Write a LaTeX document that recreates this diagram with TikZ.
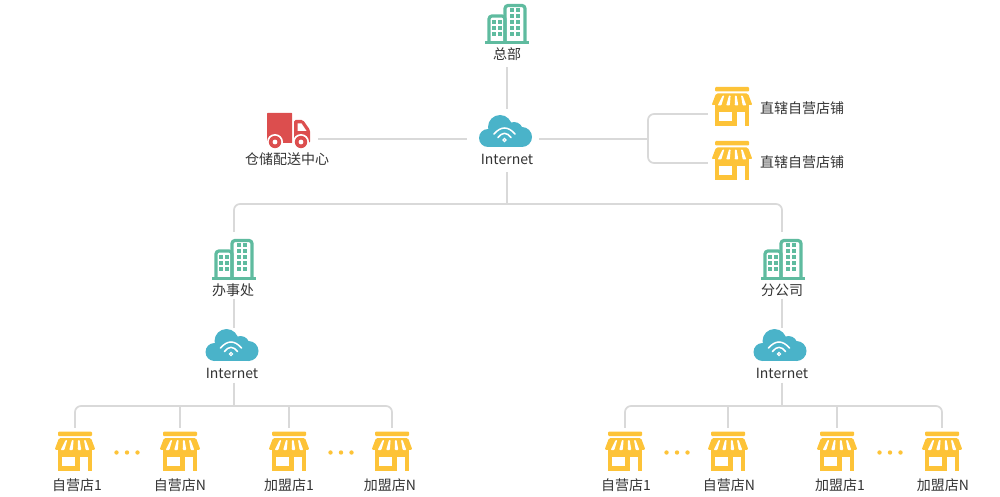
\documentclass[tikz,border=0pt]{standalone}
\usepackage{fontspec}
\setmainfont{Noto Sans CJK SC}
\usetikzlibrary{positioning}
\definecolor{wirec}{HTML}{D9D9D9}
\definecolor{towerc}{HTML}{5FBB9F}
\definecolor{cloudc}{HTML}{4AB3C9}
\definecolor{truckc}{HTML}{DC4E4E}
\definecolor{shopc}{HTML}{FDC338}
\definecolor{textc}{HTML}{333333}
\tikzset{
  wire/.style={draw=wirec,line width=1.7pt,rounded corners=6pt},
  iconbox/.style={inner sep=0pt,minimum width=#1},
  caption/.style={inner sep=0pt,text=textc,font=\fontsize{14}{16}\selectfont,text height=10pt,text depth=1pt},
  tower/.pic={
    \draw[towerc,line width=3.2pt,rounded corners=3pt] (-2,19) -- (-2,-8) -- (-18,-8) -- (-18,19);
    \draw[towerc,line width=3.2pt,rounded corners=3pt] (-2,19) -- (-2,-18.5) -- (18,-18.5) -- (18,19);
    \fill[towerc] (-22,17.5) rectangle (21.5,20.5);
    \foreach \wx in {-13,-7} \foreach \wy in {-2,4,10}
      \fill[towerc] (\wx-2,\wy-2) rectangle (\wx+2,\wy+2);
    \foreach \wx in {5,11} \foreach \wy in {-14,-8,-2,4,10}
      \fill[towerc] (\wx-2,\wy-2) rectangle (\wx+2,\wy+2);
  },
  wificloud/.pic={
    \fill[cloudc] (-6,-4) circle (12pt) (8,0) circle (9pt) (16,6) circle (10pt) (-18,7) circle (9pt);
    \fill[cloudc] (-18,4) rectangle (16,16);
    \draw[white,line width=1.5pt,line cap=round] (-12,3) .. controls (-5,-5) and (2,-5) .. (9,3);
    \draw[white,line width=1.5pt,line cap=round] (-8,6.5) .. controls (-4,1) and (1,1) .. (5,6.5);
    \draw[white,line width=1.2pt] (-1.5,9) circle (1.6pt);
  },
  lorry/.pic={
    \fill[truckc,rounded corners=0.5pt] (-20,-17) rectangle (5,13);
    \fill[truckc,rounded corners=1.5pt] (7,-10) -- (16,-10) -- (23,0) -- (23,13) -- (7,13) -- cycle;
    \fill[white] (10.5,-6.5) -- (14.5,-6.5) -- (19.5,1) -- (10.5,1) -- cycle;
    \foreach \wx in {-12,14} {
      \fill[white] (\wx,12) circle (8pt);
      \fill[truckc] (\wx,12) circle (6.2pt);
      \fill[white] (\wx,12) circle (2.4pt);
    }
  },
  shop/.pic={
    \fill[shopc,rounded corners=1pt] (-17,-19.5) rectangle (17,-15);
    \fill[shopc,rounded corners=1.5pt] (-16,-13) -- (16,-13) -- (20.5,-1) -- (-20.5,-1) -- cycle;
    \fill[shopc] (-17,-1) rectangle (17,19.5);
    \fill[white] (-13,5.5) rectangle (0,14.5);
    \fill[white] (5,5.5) rectangle (13,19.5);
    \foreach \sa/\sb in {-8.5/-12.5,-2.2/-4,3.8/4.5,9.8/12.5}
      \fill[white,rounded corners=0.8pt] (\sa-0.8,-11) -- (\sa+0.8,-11) -- (\sb+1.8,-1) -- (\sb-1.8,-1) -- cycle;
    \fill[white] (-20.5,-1) rectangle (-17,1);
    \fill[white] (17,-1) rectangle (20.5,1);
  },
  ellipsis/.pic={
    \fill[shopc] (-10.5,0) circle (2.2pt) (0,0) circle (2.2pt) (10.5,0) circle (2.2pt);
  }
}
\begin{document}
\begin{tikzpicture}[x=1pt,y=-1pt]
  \useasboundingbox (0,0) rectangle (1000,497);
  % head office and the main cloud
  \pic at (507,24) {tower};
  \node [caption,outer ysep=7pt] (hq) at (507,55) {总部};
  \pic at (506,131) {wificloud};
  \node [iconbox=72pt,minimum height=60pt] (cloud0) at (503,139) {};
  \node [caption,outer ysep=7pt] (net0) at (507,160) {Internet};
  \pic at (287,130) {lorry};
  \node [iconbox=62pt] (depot) at (287,139) {};
  \node [caption] (depottxt) at (287,160) {仓储配送中心};
  % directly run shops
  \pic at (732,106.5) {shop};
  \pic at (732,160.5) {shop};
  \node [iconbox=48pt] (shopa) at (732,114) {};
  \node [iconbox=48pt] (shopb) at (732,163) {};
  \node [caption,right=28pt of shopa.center,anchor=west] (shopatxt) at (732,109) {直辖自营店铺};
  \node [caption,right=28pt of shopb.center,anchor=west] (shopbtxt) at (732,163) {直辖自营店铺};
  \coordinate (fork) at (648,139);
  \coordinate (bus0) at (507,204);
  % office and branch
  \pic at (234,259) {tower};
  \pic at (783,259) {tower};
  \node [iconbox=44pt,minimum height=56pt] (office) at (234,260) {};
  \node [iconbox=44pt,minimum height=56pt] (branch) at (782,260) {};
  \node [caption,outer ysep=2pt] (officetxt) at (233,291) {办事处};
  \node [caption,outer ysep=2pt] (branchtxt) at (782,291) {分公司};
  \pic at (232.5,345) {wificloud};
  \pic at (780.5,345) {wificloud};
  \node [iconbox=56pt,minimum height=34pt] (cloud1) at (234,345) {};
  \node [iconbox=56pt,minimum height=34pt] (cloud2) at (782,345) {};
  \node [caption,outer ysep=3pt] (net1) at (232,374) {Internet};
  \node [caption,outer ysep=3pt] (net2) at (782,374) {Internet};
  \coordinate (bus1) at (234,406);
  \coordinate (bus2) at (782,406);
  % shops of the left group
  \node [iconbox=40pt,minimum height=46pt] (s1) at (75,451) {};
  \node [iconbox=40pt,minimum height=46pt] (s2) at (180,451) {};
  \node [iconbox=40pt,minimum height=46pt] (s3) at (289,451) {};
  \node [iconbox=40pt,minimum height=46pt] (s4) at (392,451) {};
  \pic at (s1) {shop};
  \pic at (s2) {shop};
  \pic at (s3) {shop};
  \pic at (s4) {shop};
  \pic at (127,452.5) {ellipsis};
  \pic at (341,452.5) {ellipsis};
  \node [caption] (s1txt) at (77,486) {自营店1};
  \node [caption] (s2txt) at (180,486) {自营店N};
  \node [caption] (s3txt) at (289,486) {加盟店1};
  \node [caption] (s4txt) at (390,486) {加盟店N};
  % shops of the right group
  \node [iconbox=40pt,minimum height=46pt] (t1) at (625,451) {};
  \node [iconbox=40pt,minimum height=46pt] (t2) at (728,451) {};
  \node [iconbox=40pt,minimum height=46pt] (t3) at (837,451) {};
  \node [iconbox=40pt,minimum height=46pt] (t4) at (942,451) {};
  \pic at (t1) {shop};
  \pic at (t2) {shop};
  \pic at (t3) {shop};
  \pic at (t4) {shop};
  \pic at (677,452.5) {ellipsis};
  \pic at (890,452.5) {ellipsis};
  \node [caption] (t1txt) at (626,486) {自营店1};
  \node [caption] (t2txt) at (729,486) {自营店N};
  \node [caption] (t3txt) at (840,486) {加盟店1};
  \node [caption] (t4txt) at (943,486) {加盟店N};
  % connectors
  \draw [wire] (hq.south) -- (hq.south |- cloud0.north);
  \draw [wire] (depot.east) -- (cloud0.west);
  \draw [wire] (cloud0.east) -- (fork);
  \draw [wire] (shopa.west) -| (fork) |- (shopb.west);
  \draw [wire] (net0.south) -- (bus0);
  \draw [wire] (office.north) |- (bus0) -| (branch.north);
  \draw [wire] (officetxt.south -| office) -- (cloud1.north);
  \draw [wire] (branchtxt.south) -- (cloud2.north);
  \draw [wire] (net1.south -| bus1) -- (bus1);
  \draw [wire] (net2.south) -- (bus2);
  \draw [wire] (s1.north) |- (bus1) -| (s4.north);
  \draw [wire] (s2.north) -- (s2.north |- bus1);
  \draw [wire] (s3.north) -- (s3.north |- bus1);
  \draw [wire] (t1.north) |- (bus2) -| (t4.north);
  \draw [wire] (t2.north) -- (t2.north |- bus2);
  \draw [wire] (t3.north) -- (t3.north |- bus2);
\end{tikzpicture}
\end{document}
